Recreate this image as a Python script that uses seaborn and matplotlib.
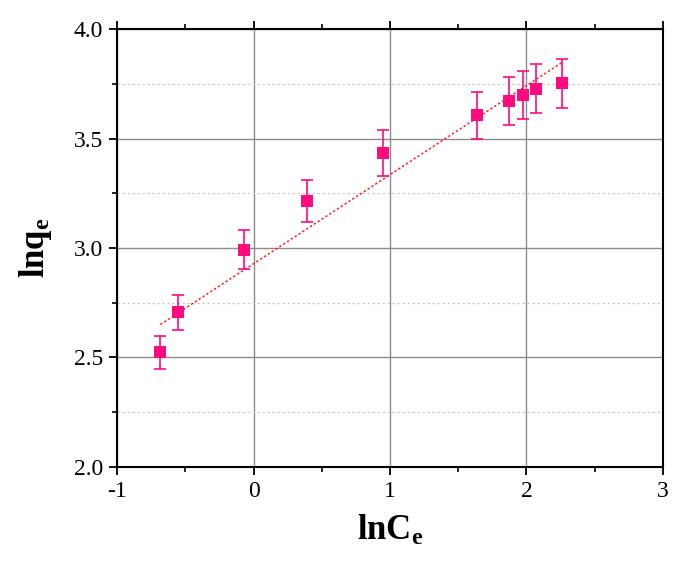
import numpy as np
import pandas as pd
import matplotlib
matplotlib.use("Agg")
import matplotlib.pyplot as plt
from matplotlib.ticker import MultipleLocator, FormatStrFormatter
import seaborn as sns

# data
ln_ce = [-0.683, -0.551, -0.067, 0.390, 0.947, 1.640, 1.874, 1.972, 2.067, 2.260]
ln_qe = [2.524, 2.706, 2.991, 3.215, 3.434, 3.607, 3.670, 3.699, 3.727, 3.752]
ln_qe_err = [0.075, 0.081, 0.089, 0.096, 0.104, 0.108, 0.110, 0.111, 0.112, 0.113]
fit_slope = 0.407
fit_intercept = 2.928

df = pd.DataFrame({"lnCe": ln_ce, "lnqe": ln_qe, "err": ln_qe_err})

sns.set_theme(style="white")
plt.rcParams["font.family"] = ["Liberation Serif", "DejaVu Serif"]
plt.rcParams["mathtext.fontset"] = "custom"
plt.rcParams["mathtext.rm"] = "Liberation Serif"
plt.rcParams["mathtext.bf"] = "Liberation Serif:bold"
plt.rcParams["text.color"] = "black"
plt.rcParams["axes.labelcolor"] = "black"
plt.rcParams["xtick.color"] = "black"
plt.rcParams["ytick.color"] = "black"

PINK = "#ff0a7f"

fig = plt.figure(figsize=(6.73, 5.61), dpi=100)
ax = fig.add_axes([0.174, 0.168, 0.811, 0.78])

# fitted line
xf = np.array([df["lnCe"].min(), df["lnCe"].max()])
ax.plot(xf, fit_slope * xf + fit_intercept, ls=(0, (1.5, 1.5)), color="#ff2020", lw=1.1, zorder=3)

ax.errorbar(df["lnCe"], df["lnqe"], yerr=df["err"], fmt="none", ecolor=PINK,
            elinewidth=1.2, capsize=4.3, capthick=1.2, zorder=4)
sns.scatterplot(data=df, x="lnCe", y="lnqe", marker="s", s=80, color=PINK,
                edgecolor=PINK, linewidth=0, ax=ax, zorder=5)

ax.set_xlim(-1, 3)
ax.set_ylim(2.0, 4.0)
ax.xaxis.set_major_locator(MultipleLocator(1))
ax.xaxis.set_minor_locator(MultipleLocator(0.5))
ax.yaxis.set_major_locator(MultipleLocator(0.5))
ax.yaxis.set_minor_locator(MultipleLocator(0.25))
ax.xaxis.set_major_formatter(FormatStrFormatter("%g"))
ax.yaxis.set_major_formatter(FormatStrFormatter("%.1f"))

ax.grid(True, which="major", color="#8c8c8c", lw=1.0, ls="-")
ax.grid(True, which="minor", axis="y", color="#cccccc", lw=0.9, ls=(0, (2, 2)))
ax.set_axisbelow(True)

for sp in ax.spines.values():
    sp.set_visible(True)
    sp.set_color("black")
    sp.set_linewidth(1.5)

ax.tick_params(which="major", direction="out", length=6, width=1.3, labelsize=17,
               bottom=True, left=True, top=True, right=False, labeltop=False, pad=4)
ax.tick_params(which="minor", direction="out", length=3.5, width=1.2,
               bottom=True, left=True, top=True, right=False)

ax.set_xlabel(r"$\mathbf{lnC_e}$", fontsize=25, labelpad=9)
ax.set_ylabel(r"$\mathbf{lnq_e}$", fontsize=25, labelpad=14)

fig.savefig("out.png", dpi=100, facecolor="white")
